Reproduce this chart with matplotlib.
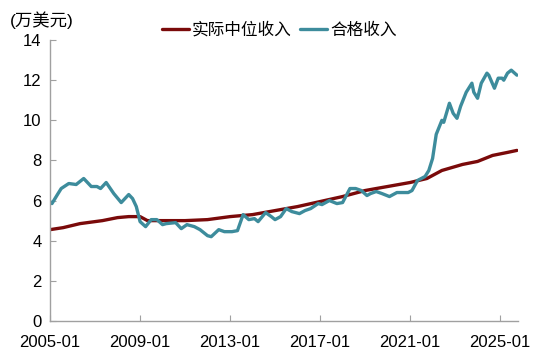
import matplotlib
matplotlib.use("Agg")
import matplotlib.pyplot as plt
import matplotlib.dates as mdates
import pandas as pd

plt.rcParams["font.family"] = ["Liberation Sans", "Noto Sans CJK SC", "DejaVu Sans"]

# 实际中位收入 (万美元)
median_dates = ["2005-01", "2005-08", "2006-05", "2007-05", "2008-01", "2008-07",
                "2009-01", "2009-05", "2010-01", "2011-01", "2012-01", "2013-01",
                "2014-01", "2015-01", "2016-01", "2017-01", "2018-01", "2019-01",
                "2019-07", "2020-01", "2021-01", "2021-10", "2022-06", "2023-05",
                "2024-01", "2024-09", "2025-05", "2025-10"]
median_vals = [4.55, 4.65, 4.85, 5.0, 5.15, 5.2,
               5.2, 5.0, 5.0, 5.0, 5.05, 5.2,
               5.3, 5.5, 5.7, 5.95, 6.2, 6.5,
               6.6, 6.7, 6.9, 7.1, 7.5, 7.8,
               7.95, 8.25, 8.4, 8.5]

# 合格收入 (万美元)
qual_dates = ["2005-01", "2005-02", "2005-05", "2005-07", "2005-11", "2006-03",
              "2006-07", "2006-11", "2007-02", "2007-04", "2007-07", "2007-11",
              "2008-03", "2008-07", "2008-09", "2008-11", "2009-01", "2009-04",
              "2009-07", "2009-10", "2010-01", "2010-03", "2010-08", "2010-11",
              "2011-02", "2011-06", "2011-09", "2012-01", "2012-03", "2012-07",
              "2012-10", "2013-02", "2013-05", "2013-08", "2013-11", "2014-02",
              "2014-04", "2014-08", "2014-11", "2015-01", "2015-04", "2015-07",
              "2015-10", "2016-02", "2016-05", "2016-08", "2016-12", "2017-02",
              "2017-06", "2017-10", "2018-01", "2018-05", "2018-08", "2018-11",
              "2019-02", "2019-04", "2019-07", "2019-10", "2020-02", "2020-06",
              "2020-12", "2021-02", "2021-05", "2021-09", "2021-11", "2022-01",
              "2022-03", "2022-06", "2022-07", "2022-10", "2022-12", "2023-02",
              "2023-04", "2023-07", "2023-10", "2023-11", "2024-01", "2024-03",
              "2024-06", "2024-07", "2024-10", "2024-12", "2025-02", "2025-03",
              "2025-05", "2025-07", "2025-10"]
qual_vals = [5.95, 5.85, 6.3, 6.6, 6.85, 6.8,
             7.1, 6.7, 6.7, 6.6, 6.9, 6.35,
             5.9, 6.3, 6.1, 5.7, 4.95, 4.7,
             5.05, 5.05, 4.8, 4.85, 4.9, 4.6,
             4.8, 4.7, 4.55, 4.25, 4.2, 4.55,
             4.45, 4.45, 4.5, 5.3, 5.05, 5.1,
             4.95, 5.4, 5.2, 5.05, 5.2, 5.6,
             5.45, 5.35, 5.5, 5.6, 5.85, 5.8,
             6.0, 5.85, 5.9, 6.6, 6.6, 6.5,
             6.25, 6.35, 6.45, 6.35, 6.2, 6.4,
             6.4, 6.5, 7.0, 7.2, 7.5, 8.1,
             9.3, 10.0, 9.9, 10.85, 10.35, 10.1,
             10.7, 11.4, 11.85, 11.4, 11.1, 11.85,
             12.35, 12.25, 11.6, 12.1, 12.1, 12.0,
             12.35, 12.5, 12.25]

tick_dates = ["2005-01", "2009-01", "2013-01", "2017-01", "2021-01", "2025-01"]

RED = "#7A0A0A"
TEAL = "#3D8C9C"
GREY = "#A0A0A0"

fig = plt.figure(figsize=(5.5, 3.61), dpi=100)
ax = fig.add_axes([0.091, 0.111, 0.851, 0.778])

ax.plot(pd.to_datetime(median_dates), median_vals, color=RED, lw=2.4,
        label="实际中位收入", solid_capstyle="round")
ax.plot(pd.to_datetime(qual_dates), qual_vals, color=TEAL, lw=2.4,
        label="合格收入", solid_capstyle="round")

ax.set_ylim(0, 14)
ax.set_yticks(range(0, 15, 2))
ax.set_xlim(pd.Timestamp("2005-01-01"), pd.Timestamp("2025-10-20"))
ax.set_xticks(pd.to_datetime(tick_dates))
ax.xaxis.set_major_formatter(mdates.DateFormatter("%Y-%m"))

for side in ("top", "right"):
    ax.spines[side].set_visible(False)
for side in ("left", "bottom"):
    ax.spines[side].set_color(GREY)
    ax.spines[side].set_linewidth(1.0)
ax.tick_params(direction="in", length=4, color=GREY, labelsize=12, pad=6)
ax.tick_params(axis="x", pad=10)

ax.text(-0.085, 1.07, "(万美元)", transform=ax.transAxes, fontsize=12.5,
        ha="left", va="center")

ax.legend(loc="center", bbox_to_anchor=(0.49, 1.036), ncol=2, frameon=False,
          fontsize=12, handlelength=1.6, handletextpad=0.2, columnspacing=0.5,
          borderaxespad=0, borderpad=0)

fig.savefig("out.png", dpi=100)
